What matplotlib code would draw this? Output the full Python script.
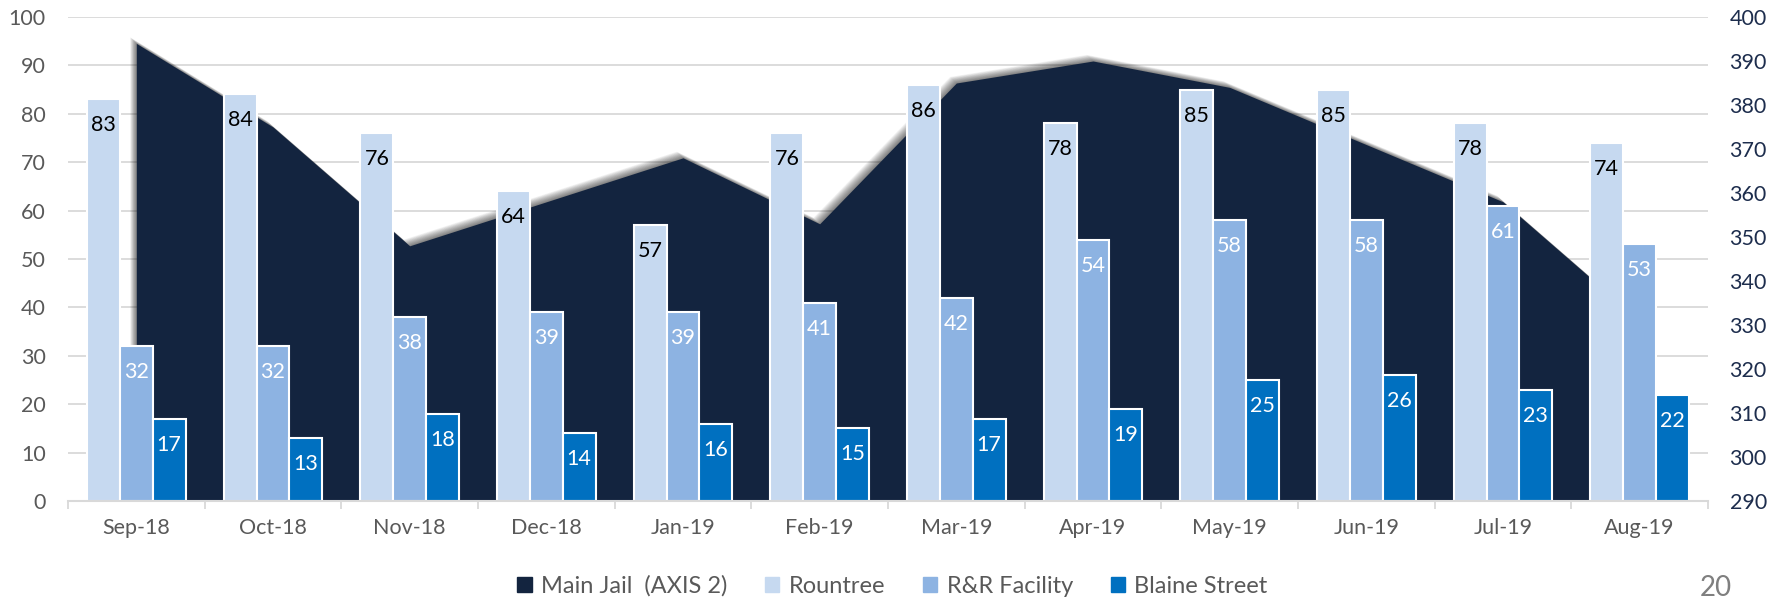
import matplotlib
matplotlib.use("Agg")
import matplotlib.pyplot as plt
import numpy as np
from matplotlib.patches import Patch
from matplotlib.transforms import offset_copy

plt.rcParams["font.family"] = ["Lato", "DejaVu Sans"]

# Data
months = ["Sep-18", "Oct-18", "Nov-18", "Dec-18", "Jan-19", "Feb-19",
          "Mar-19", "Apr-19", "May-19", "Jun-19", "Jul-19", "Aug-19"]
main_jail = [394, 375, 348, 358, 368, 353, 385, 390, 384, 371, 358, 331]
rountree = [83, 84, 76, 64, 57, 76, 86, 78, 85, 85, 78, 74]
rr_facility = [32, 32, 38, 39, 39, 41, 42, 54, 58, 58, 61, 53]
blaine = [17, 13, 18, 14, 16, 15, 17, 19, 25, 26, 23, 22]

# Colors
C_MAIN = "#13243f"
C_ROUNTREE = "#c6d9f0"
C_RR = "#8db3e2"
C_BLAINE = "#0070c0"
GRID = "#d9d9d9"
TICK_GRAY = "#595959"
RIGHT_TXT = "#1d2d4d"

fig = plt.figure(figsize=(17.85, 5.99), dpi=100)
ax = fig.add_axes([68 / 1785, 1 - 501 / 599, 1640 / 1785, 484 / 599])
ax2 = ax.twinx()   # area, right axis
ax3 = ax.twinx()   # bars, same scale as left axis

x = np.arange(len(months))

# base axis: gridlines and left labels
ax.set_xlim(-0.5, len(months) - 0.5)
ax.set_ylim(0, 100)
ax.set_yticks(range(0, 101, 10))
ax.yaxis.grid(True, color=GRID, linewidth=1.3)
ax.set_axisbelow(True)
ax.tick_params(axis="y", length=0, pad=16, labelsize=15.5, labelcolor=TICK_GRAY)
ax.set_xticks(np.arange(-0.5, len(months), 1.0))
ax.set_xticklabels([])
ax.set_xticks(x, minor=True)
ax.set_xticklabels(months, minor=True)
ax.tick_params(axis="x", which="major", length=6, width=1.3, color=GRID)
ax.tick_params(axis="x", which="minor", length=0, pad=12, labelsize=15.5,
               labelcolor=TICK_GRAY)
for s in ax.spines.values():
    s.set_visible(False)

# area on secondary axis, with a soft shadow towards the upper left
ax2.set_ylim(290, 400)
ax2.set_yticks(range(290, 401, 10))
ax2.tick_params(axis="y", length=0, pad=15.5, labelsize=15.5, labelcolor=RIGHT_TXT)
for k in range(1, 13):
    tr = offset_copy(ax2.transData, fig=fig, x=-0.55 * k, y=0.55 * k, units="dots")
    ax2.fill_between(x, main_jail, 290, color="black", alpha=0.05,
                     linewidth=0, transform=tr)
ax2.fill_between(x, main_jail, 290, color=C_MAIN, linewidth=0)
for s in ax2.spines.values():
    s.set_visible(False)

# bars
ax3.set_ylim(0, 100)
ax3.set_yticks([])
w = 0.24
series = [(rountree, C_ROUNTREE, "black", -w),
          (rr_facility, C_RR, "white", 0),
          (blaine, C_BLAINE, "white", w)]
for vals, col, txt, off in series:
    ax3.bar(x + off, vals, width=w, color=col, edgecolor="white", linewidth=1.5)
    for xi, v in zip(x, vals):
        ax3.annotate(str(v), (xi + off, v), xytext=(0, -26),
                     textcoords="offset pixels", ha="center", va="center",
                     fontsize=15.5, color=txt)
for s in ax3.spines.values():
    s.set_visible(False)
ax3.spines["bottom"].set_visible(True)
ax3.spines["bottom"].set_color(GRID)
ax3.spines["bottom"].set_linewidth(1.5)

handles = [Patch(color=C_MAIN, label="Main Jail  (AXIS 2)"),
           Patch(color=C_ROUNTREE, label="Rountree"),
           Patch(color=C_RR, label="R&R Facility"),
           Patch(color=C_BLAINE, label="Blaine Street")]
fig.legend(handles=handles, loc="center", bbox_to_anchor=(0.5, 1 - 586 / 599),
           ncol=4, frameon=False, fontsize=17, handlelength=0.6,
           handleheight=0.6, handletextpad=0.4, columnspacing=1.6,
           labelcolor=TICK_GRAY)

fig.text(1716 / 1785, 1 - 588 / 599, "20", ha="center", va="center",
         fontsize=20, color="#7f7f7f")

fig.savefig("out.png", dpi=100)
